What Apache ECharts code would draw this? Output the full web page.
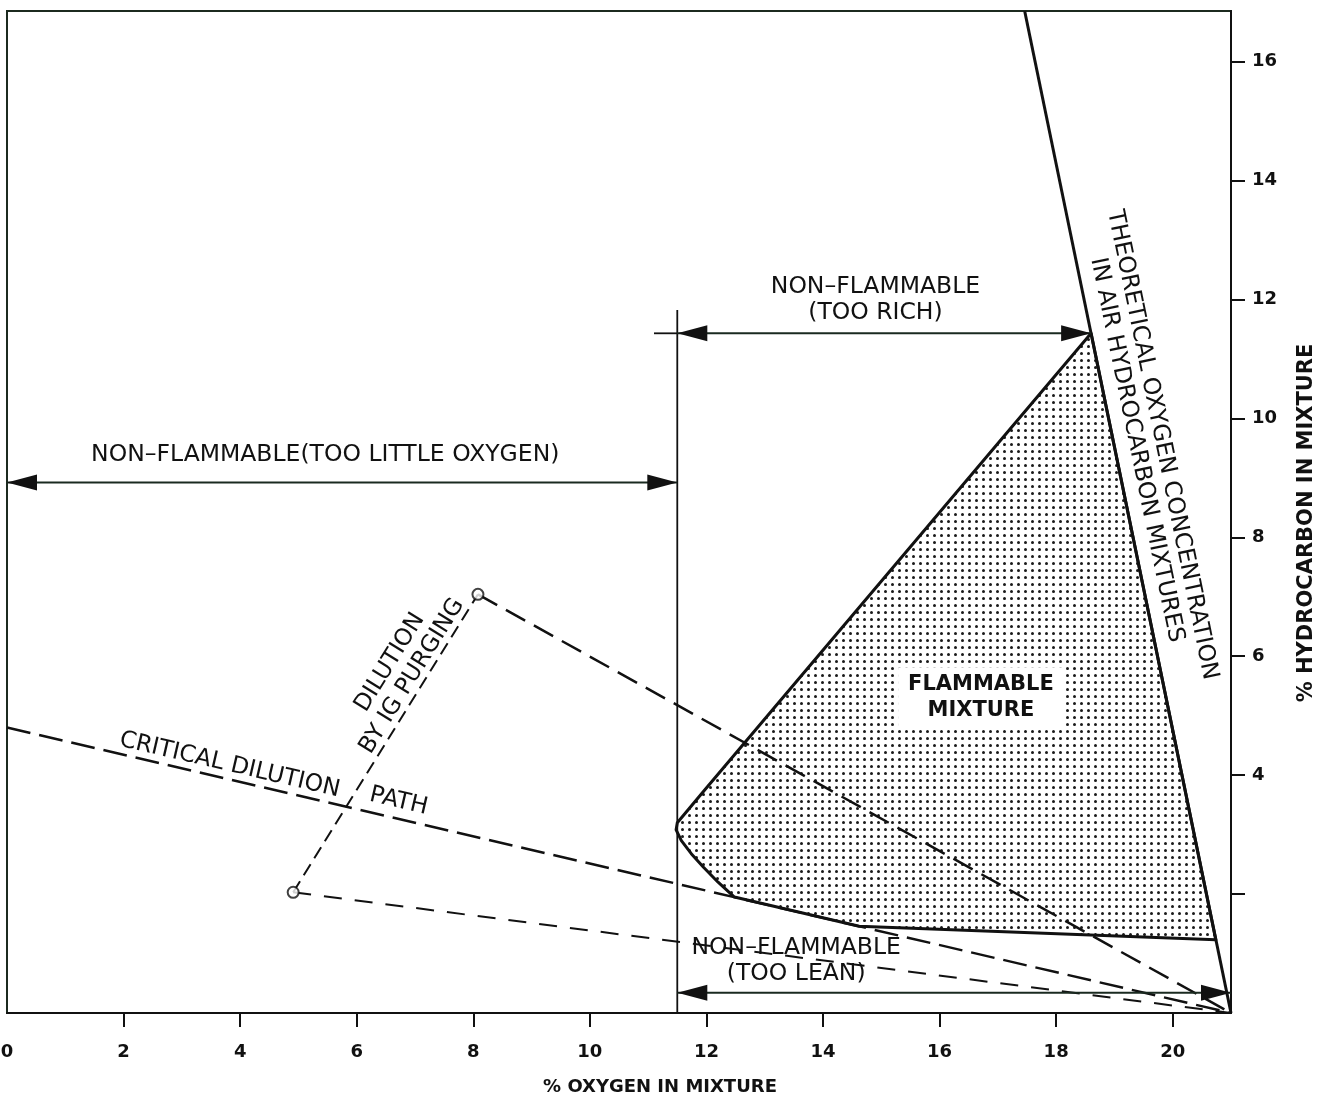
<!DOCTYPE html>
<html>
<head>
<meta charset="utf-8">
<script src="https://cdn.jsdelivr.net/npm/echarts@6/dist/echarts.min.js"></script>
<style>
    html, body { margin: 0; padding: 0; background: #fff; }
    #chart { width: 1324px; height: 1098px; }
</style>
</head>
<body>
<div id="chart"></div>
<script>
// axes
let xTicks = [2, 4, 6, 8, 10, 12, 14, 16, 18, 20];
let xLabels = [0, 2, 4, 6, 8, 10, 12, 14, 16, 18, 20];
let yTicks = [2, 4, 6, 8, 10, 12, 14, 16];
let yLabels = [4, 6, 8, 10, 12, 14, 16];

// [% oxygen, % hydrocarbon]
let theoreticalLine = [[17.46, 16.85], [21, 0]];
let richLimit = [[11.5, 0], [11.5, 11.82]];
let richTail = [[11.1, 11.43], [11.5, 11.43]];
let criticalPath = [[0, 4.8], [21, 0]];
let purgePath = [[4.91, 2.03], [8.08, 7.04]];
let upperToAir = [[8.08, 7.04], [21, 0]];
let lowerToAir = [[4.91, 2.03], [21, 0]];
let purgePoints = [[4.91, 2.03], [8.08, 7.04]];

let flammableRegion = [
    [18.6, 11.43], [20.74, 1.23], [14.62, 1.46], [12.48, 1.95], [12.2, 2.2],
    [11.95, 2.45], [11.74, 2.68], [11.57, 2.9], [11.48, 3.08], [11.5, 3.2], [11.97, 3.75]
];

// x1, y1, x2, y2 (double headed)
let arrows = [
    [0, 8.92, 11.5, 8.92],
    [11.5, 11.43, 18.6, 11.43],
    [11.5, 0.34, 21, 0.34]
];

// annotations
let noteTexts = [
    'NON–FLAMMABLE(TOO LITTLE OXYGEN)',
    'NON–FLAMMABLE\n(TOO RICH)',
    'NON–FLAMMABLE\n(TOO LEAN)',
    'FLAMMABLE\nMIXTURE',
    'THEORETICAL OXYGEN CONCENTRATION\nIN AIR HYDROCARBON MIXTURES',
    'DILUTION\nBY IG PURGING',
    'CRITICAL DILUTION',
    'PATH'
];
let noteAt = [
    [5.46, 9.38], [14.9, 12.0], [13.54, 0.87], [16.71, 5.31],
    [19.6, 9.51], [6.76, 5.78], [3.82, 4.17], [6.72, 3.56]
];
let noteAngles = [0, 0, 0, 0, -78.4, 58.2, -13.1, -13.1];

const FONT = 'DejaVu Sans';
const INK = '#111';

// 点阵填充
function dotPattern() {
    let c = document.createElement('canvas');
    c.width = 7;
    c.height = 7;
    let ctx = c.getContext('2d');
    ctx.fillStyle = '#fff';
    ctx.fillRect(0, 0, 7, 7);
    ctx.fillStyle = '#1a1a1a';
    ctx.beginPath();
    ctx.arc(3.5, 3.5, 1.5, 0, Math.PI * 2);
    ctx.fill();
    return c;
}

function seg(data, width, dash) {
    return {
        type: 'line',
        data: data,
        symbol: 'none',
        silent: true,
        z: 3,
        lineStyle: { color: INK, width: width, type: dash || 'solid' }
    };
}

let myChart = echarts.init(document.getElementById('chart'));

let option = {
    animation: false,
    backgroundColor: '#fff',
    grid: {
        left: 7, right: 93, top: 11, bottom: 85,
        outerBoundsMode: 'none',
        containLabel: false,
        show: true, borderColor: '#1c2a1f', borderWidth: 2
    },
    xAxis: {
        type: 'value', min: 0, max: 21,
        splitLine: { show: false },
        axisLine: { show: true, onZero: false, lineStyle: { color: INK, width: 2 } },
        axisTick: { show: true, customValues: xTicks, length: 14, lineStyle: { color: INK, width: 2 } },
        axisLabel: {
            customValues: xLabels, margin: 30, color: INK,
            fontFamily: FONT, fontSize: 18, fontWeight: 'bold'
        },
        name: '% OXYGEN IN MIXTURE',
        nameLocation: 'middle',
        nameGap: 65,
        nameTextStyle: { color: INK, fontFamily: FONT, fontSize: 18, fontWeight: 'bold', padding: [0, 0, 0, 82] }
    },
    yAxis: {
        type: 'value', min: 0, max: 16.85, position: 'right',
        splitLine: { show: false },
        axisLine: { show: true, onZero: false, lineStyle: { color: INK, width: 2 } },
        axisTick: { show: true, customValues: yTicks, length: 14, lineStyle: { color: INK, width: 2 } },
        axisLabel: {
            customValues: yLabels, margin: 21, color: INK,
            fontFamily: FONT, fontSize: 18, fontWeight: 'bold'
        },
        name: '% HYDROCARBON IN MIXTURE',
        nameLocation: 'middle',
        nameRotate: 90,
        nameGap: 65,
        nameTextStyle: { color: INK, fontFamily: FONT, fontSize: 21, fontWeight: 'bold', padding: [0, 22, 0, 0] }
    },
    series: [
        // flammable zone
        {
            type: 'custom',
            silent: true,
            z: 1,
            data: flammableRegion,
            encode: { x: 0, y: 1 },
            renderItem: (params, api) => {
                if (params.dataIndex !== 0) {
                    return;
                }
                let pts = flammableRegion.map(p => api.coord(p));
                return {
                    type: 'polygon',
                    shape: { points: pts },
                    style: {
                        fill: { image: dotPattern(), repeat: 'repeat' },
                        stroke: INK, lineWidth: 3, lineJoin: 'round'
                    }
                };
            }
        },
        seg(theoreticalLine, 3),
        seg(richLimit, 1.8),
        seg(richTail, 1.8),
        seg(criticalPath, 2.5, [24, 9]),
        seg(purgePath, 2, [13, 7]),
        seg(upperToAir, 2.5, [22, 10]),
        seg(lowerToAir, 2, [18, 13]),
        // arrows
        {
            type: 'custom',
            silent: true,
            z: 4,
            data: arrows,
            encode: { x: [0, 2], y: [1, 3] },
            renderItem: (params, api) => {
                let a = arrows[params.dataIndex];
                let p1 = api.coord([a[0], a[1]]),
                    p2 = api.coord([a[2], a[3]]);
                let dx = p2[0] - p1[0], dy = p2[1] - p1[1];
                let len = Math.hypot(dx, dy);
                let ux = dx / len, uy = dy / len, nx = -uy, ny = ux;
                let L = 30, W = 8;
                let head = (tip, dir) => {
                    let bx = tip[0] - dir * ux * L, by = tip[1] - dir * uy * L;
                    return {
                        type: 'polygon',
                        shape: { points: [tip, [bx + nx * W, by + ny * W], [bx - nx * W, by - ny * W]] },
                        style: { fill: INK }
                    };
                };
                return {
                    type: 'group',
                    children: [
                        {
                            type: 'line',
                            shape: { x1: p1[0], y1: p1[1], x2: p2[0], y2: p2[1] },
                            style: { stroke: '#1a2a20', lineWidth: 2 }
                        },
                        head(p1, -1),
                        head(p2, 1)
                    ]
                };
            }
        },
        {
            type: 'scatter',
            silent: true,
            z: 5,
            data: purgePoints,
            symbol: 'circle',
            symbolSize: 11,
            itemStyle: { color: '#fff', borderColor: INK, borderWidth: 2 }
        },
        // texts
        {
            type: 'custom',
            silent: true,
            z: 6,
            data: noteAt,
            encode: { x: 0, y: 1 },
            renderItem: (params, api) => {
                let i = params.dataIndex;
                let p = api.coord(noteAt[i]);
                let boxed = noteTexts[i].indexOf('FLAMMABLE\nMIXTURE') === 0;
                return {
                    type: 'text',
                    x: p[0],
                    y: p[1],
                    rotation: noteAngles[i] * Math.PI / 180,
                    style: {
                        text: noteTexts[i],
                        fill: INK,
                        fontFamily: FONT,
                        fontSize: boxed ? 21 : 23.5,
                        fontWeight: boxed ? 'bold' : 'normal',
                        align: 'center',
                        verticalAlign: 'middle',
                        lineHeight: 26,
                        backgroundColor: boxed ? '#fff' : null,
                        padding: boxed ? [4, 10] : 0
                    }
                };
            }
        }
    ]
};

myChart.setOption(option);
</script>
</body>
</html>
